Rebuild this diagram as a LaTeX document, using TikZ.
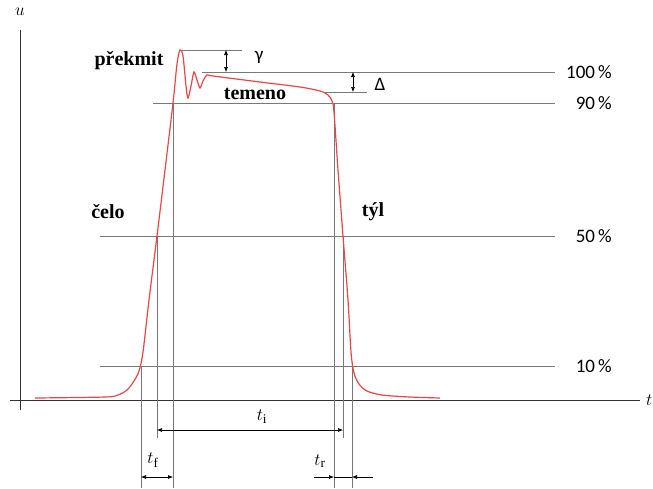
\documentclass[tikz,border=0pt]{standalone}
\usepackage{fontspec}
\setmainfont{Liberation Serif}
\newfontfamily\pctfont{Carlito}
\definecolor{PulseRed}{RGB}{232,70,70}
\definecolor{GuideGray}{RGB}{120,120,120}
\definecolor{AxisGray}{RGB}{50,50,50}
\usetikzlibrary{arrows.meta, positioning, calc}
\tikzset{
  guide/.style={draw=GuideGray, line width=0.6pt},
  dim/.style={draw=black, line width=0.6pt, {Latex[length=5pt,width=4pt]}-{Latex[length=5pt,width=4pt]}},
  dimin/.style={draw=black, line width=0.6pt, -{Latex[length=5pt,width=4pt]}},
  partlbl/.style={font=\fontsize{20}{22}\selectfont\bfseries, inner sep=1pt},
  pctlbl/.style={font=\pctfont\fontsize{19}{21}\selectfont, anchor=east, inner sep=1pt},
  timelbl/.style={font=\fontsize{19}{21}\selectfont, inner sep=1pt}
}

\begin{document}
\begin{tikzpicture}[x=1pt, y=-1pt]
  \useasboundingbox (0,0) rectangle (653,488);

  % axes
  \draw[AxisGray, line width=0.8pt] (10,400) -- (640,400);
  \draw[AxisGray, line width=0.8pt] (20,410) -- (20,30);
  \node[font=\fontsize{18}{20}\selectfont] (uax) at (20,12) {$u$};
  \node[font=\fontsize{18}{20}\selectfont, anchor=east, inner sep=0.5pt] (tax) at (653,400) {$t$};

  % crossing points of the pulse
  \coordinate (r10) at (141,366);
  \coordinate (r50) at (157,236);
  \coordinate (r90) at (173,103);
  \coordinate (f90) at (334,103);
  \coordinate (f50) at (343,236);
  \coordinate (f10) at (352,366);
  \coordinate (peak) at (180,50);
  \coordinate (crest) at (325,92);

  % level lines
  \node[pctlbl] (p100) at (613,72) {100\,\%};
  \node[pctlbl] (p90) at (613,103) {90\,\%};
  \node[pctlbl] (p50) at (613,236) {50\,\%};
  \node[pctlbl] (p10) at (613,366) {10\,\%};
  \draw[guide] (202,72) -- (555,72);
  \draw[guide] (153,103) -- (555,103);
  \draw[guide] (100,236) -- (555,236);
  \draw[guide] (100,366) -- (555,366);
  \draw[guide] (peak) -- (242,50);
  \draw[guide] (crest) -- (367,92);

  % vertical guides
  \draw[guide] (r10) -- (141,488);
  \draw[guide] (r50) -- (157,438);
  \draw[guide] (r90) -- (173,488);
  \draw[guide] (f90) -- (334,488);
  \draw[guide] (f50) -- (343,438);
  \draw[guide] (f10) -- (352,488);

  % pulse
  \draw[PulseRed, line width=1.2pt] plot[smooth, tension=0.5] coordinates {
    (35,398) (105,397) (118,395) (127,390) (134,381) (139,371) (143,352)
    (149,300) (157,236) (165,170) (173,103) (177,64) (180,50) (183,56)
    (186,86) (188,98) (191,86) (194,72) (197,80) (200,88) (203,81)
    (207,75) (213,76) (260,82) (300,87) (320,91) (328,95) (332,101)
    (334,112) (338,170) (343,236) (348,300) (351,352) (354,373)
    (359,384) (367,391) (382,395) (410,397) (440,398)};

  % dimensions
  \draw[dim] (226,50) -- (226,72);
  \draw[dim] (353,72) -- (353,92);
  \draw[dim] (157,430) -- (343,430);
  \draw[dim] (141,477) -- (173,477);
  \coordinate (trl) at (314,477);
  \coordinate (trr) at (373,477);
  \draw[dimin] (trl) -- (334,477);
  \draw[dimin] (trr) -- (352,477);
  \draw[line width=0.6pt] (334,477) -- (352,477);

  % labels
  \node[partlbl] (prekmit) at (129,61) {překmit};
  \node[partlbl] (temeno) at (255,94) {temeno};
  \node[partlbl] (celo) at (108,212) {čelo};
  \node[partlbl] (tyl) at (373,212) {týl};
  \node[font=\pctfont\fontsize{19}{21}\selectfont] (gama) at (259,57) {γ};
  \node[font=\pctfont\fontsize{19}{21}\selectfont] (delta) at (380,84) {Δ};
  \node[timelbl] (ti) at (262,417) {$t_{\mathrm{i}}$};
  \node[timelbl] (tf) at (153,460) {$t_{\mathrm{f}}$};
  \node[timelbl] (tr) at (320,461) {$t_{\mathrm{r}}$};
\end{tikzpicture}
\end{document}
